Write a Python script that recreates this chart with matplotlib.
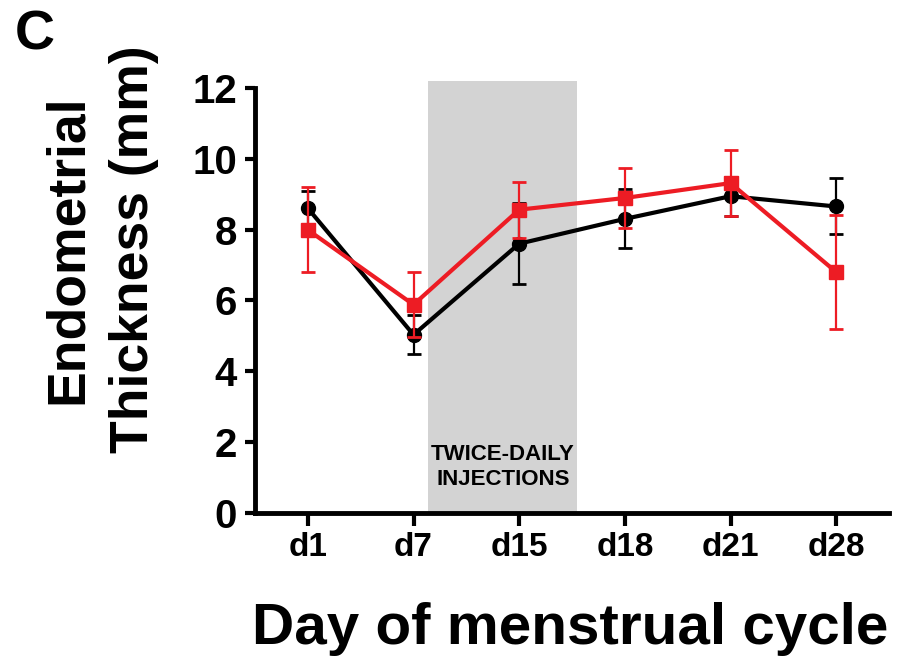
import matplotlib
matplotlib.use("Agg")
import matplotlib.pyplot as plt

plt.rcParams['font.family'] = ['Liberation Sans', 'DejaVu Sans']
plt.rcParams['font.weight'] = 'bold'

# Data
days = ['d1', 'd7', 'd15', 'd18', 'd21', 'd28']
black_mean = [8.6, 5.03, 7.6, 8.3, 8.94, 8.65]
black_err = [0.5, 0.55, 1.15, 0.83, 0.55, 0.79]
red_mean = [7.99, 5.88, 8.56, 8.89, 9.31, 6.8]
red_err = [1.2, 0.92, 0.79, 0.85, 0.93, 1.6]
shade_span = (1.14, 2.55)

red = '#ED1C24'
x = range(len(days))

fig = plt.figure(figsize=(9.02, 6.59), dpi=100)
ax = fig.add_axes([255 / 902, 146 / 659, 634 / 902, (513 - 80.7) / 659])

# Shaded injection window
ax.axvspan(shade_span[0], shade_span[1], color='#D3D3D3', lw=0, zorder=0)
ax.text(sum(shade_span) / 2, 1.3, 'TWICE-DAILY\nINJECTIONS', ha='center', va='center',
        fontsize=16, fontweight='bold', linespacing=1.2)

ax.errorbar(x, black_mean, yerr=black_err, color='black', marker='o', markersize=10,
            lw=3, elinewidth=1.6, capsize=5, capthick=2, zorder=3)
ax.errorbar(x, red_mean, yerr=red_err, color=red, marker='s', markersize=10,
            lw=3, elinewidth=1.6, capsize=5, capthick=2, zorder=4)

ax.set_xlim(-0.5, 5.5)
ax.set_ylim(0, 12.2)
ax.set_yticks(range(0, 13, 2))
ax.set_xticks(list(x))
ax.set_xticklabels(days)

for s in ['top', 'right']:
    ax.spines[s].set_visible(False)
ax.spines['left'].set_bounds(0, 12)
for s in ['left', 'bottom']:
    ax.spines[s].set_linewidth(3.5)
ax.tick_params(axis='y', length=7, width=3, labelsize=29, pad=6)
ax.tick_params(axis='x', length=9, width=3, labelsize=24, pad=5)
for lab in ax.get_xticklabels() + ax.get_yticklabels():
    lab.set_fontweight('bold')

fig.text(0.112, 0.622, 'Endometrial\nThickness (mm)', rotation=90, ha='center', va='center',
         fontsize=38.5, fontweight='bold', linespacing=1.4)
fig.text(0.6325, 0.045, 'Day of menstrual cycle', ha='center', va='center',
         fontsize=42, fontweight='bold')
fig.text(15 / 902, 1 - 10 / 659, 'C', ha='left', va='top', fontsize=40, fontweight='bold')

fig.savefig('out.png', dpi=100)
